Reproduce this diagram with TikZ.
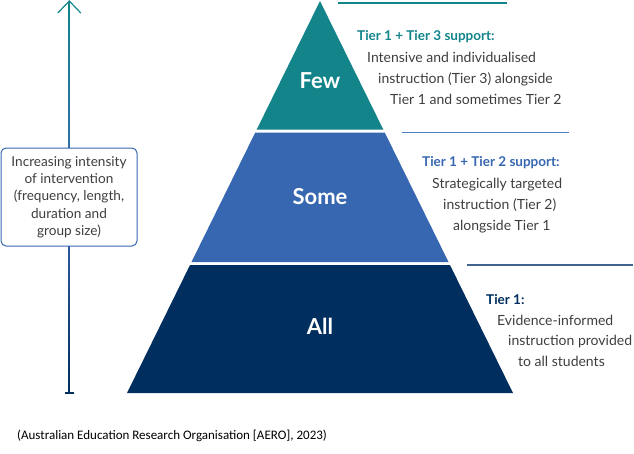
\documentclass[tikz,border=0pt]{standalone}
\usepackage{fontspec}
\setmainfont{Lato}
\newfontfamily\srcfont{Carlito}
\usetikzlibrary{calc}
\definecolor{fewteal}{RGB}{18,132,138}
\definecolor{someblue}{RGB}{54,103,176}
\definecolor{allnavy}{RGB}{0,46,94}
\definecolor{rulenavy}{RGB}{65,100,143}
\definecolor{ruleblue}{RGB}{76,124,196}
\definecolor{bodygrey}{RGB}{62,62,62}

\begin{document}
\begin{tikzpicture}[x=1pt,y=-1pt,
    tierlabel/.style={anchor=base,inner sep=0,text=white,font=\fontsize{22}{24}\selectfont\bfseries},
    head/.style={anchor=base west,inner sep=0,font=\fontsize{13.5}{15}\selectfont\bfseries},
    body/.style={anchor=base west,inner sep=0,text=bodygrey,font=\fontsize{14}{16}\selectfont}]
  \useasboundingbox (0,0) rectangle (634,453);
  \coordinate (apex) at (320,1);
  \coordinate (bl) at (127,393);
  \coordinate (br) at (513,393);
  % pyramid
  \fill[fewteal] (apex) -- ($(apex)!.328!(bl)$) -- ($(apex)!.328!(br)$) -- cycle;
  \fill[someblue] ($(apex)!.3355!(bl)$) -- ($(apex)!.666!(bl)$) -- ($(apex)!.666!(br)$) -- ($(apex)!.3355!(br)$) -- cycle;
  \fill[allnavy] ($(apex)!.6735!(bl)$) -- (bl) -- (br) -- ($(apex)!.6735!(br)$) -- cycle;
  \node[tierlabel] (few) at (320,88) {Few};
  \node[tierlabel] (some) at (320,204) {Some};
  \node[tierlabel] (all) at (320,334) {All};
  % rules
  \draw[fewteal,line width=1.2] (338,3) -- (507,3);
  \draw[ruleblue,line width=1.2] (402,132.5) -- (569,132.5);
  \draw[rulenavy,line width=1.2] (467,265) -- (633,265);
  % tier 3
  \node[head,text=fewteal] (h3) at (357,40) {Tier 1 + Tier 3 support:};
  \node[body] (t3a) at (367,62) {Intensive and individualised};
  \node[body] (t3b) at (378,83) {instruction (Tier 3) alongside};
  \node[body] (t3c) at (390,104) {Tier 1 and sometimes Tier 2};
  % tier 2
  \node[head,text=someblue] (h2) at (422,166) {Tier 1 + Tier 2 support:};
  \node[body] (t2a) at (432,188) {Strategically targeted};
  \node[body] (t2b) at (443,209) {instruction (Tier 2)};
  \node[body] (t2c) at (453,230) {alongside Tier 1};
  % tier 1
  \node[head,text=allnavy] (h1) at (486,304) {Tier 1:};
  \node[body] (t1a) at (497,325) {Evidence-informed};
  \node[body] (t1b) at (508,345) {instruction provided};
  \node[body] (t1c) at (518,366) {to all students};
  % intensity arrow
  \coordinate (top) at (69.3,1);
  \coordinate (bot) at (69.3,393);
  \shade[top color=fewteal,bottom color=allnavy,middle color=someblue] ($(top)+(-0.6,0)$) rectangle ($(bot)+(0.6,0)$);
  \draw[fewteal,line width=1.2,line join=miter] ($(top)+(-11.5,12)$) -- (top) -- ($(top)+(11.5,12)$);
  \draw[allnavy,line width=1.2] ($(bot)+(-4.5,0)$) -- ($(bot)+(4.5,0)$);
  \node[draw=someblue,fill=white,line width=1,rounded corners=5pt,minimum width=136,minimum height=98,
    align=center,text=bodygrey,font=\fontsize{13.6}{17.3}\selectfont] (intens) at (69,197)
    {Increasing intensity\\of intervention\\(frequency, length,\\duration and\\group size)};
  % source
  \node[anchor=base west,inner sep=0,font=\srcfont\fontsize{13}{15}\selectfont] (src) at (17,439)
    {(Australian Education Research Organisation [AERO], 2023)};
\end{tikzpicture}
\end{document}
